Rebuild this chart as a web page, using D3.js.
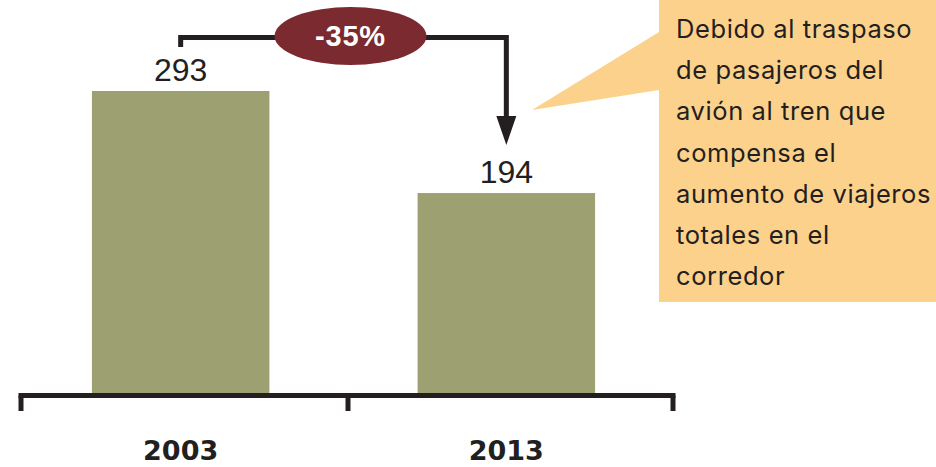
<!DOCTYPE html>
<html>
<head>
<meta charset="utf-8">
<script src="https://cdn.jsdelivr.net/npm/d3@7"></script>
<style>
  html, body { margin: 0; padding: 0; background: #ffffff; }
  svg { display: block; }
</style>
</head>
<body>
<svg id="chart" width="936" height="467"></svg>
<script>
// ---- data ----
const years = ["2003", "2013"];
const passengers = [293, 194];
const changeLabel = "-35%";
const noteLines = [
  "Debido al traspaso",
  "de pasajeros del",
  "avión al tren que",
  "compensa el",
  "aumento de viajeros",
  "totales en el",
  "corredor"
];

// ---- drawing ----
const W = 936, H = 467;
const svg = d3.select("#chart");

const barColor = "#9da172";
const ink = "#231f20";
const maroon = "#7b2a2f";
const noteColor = "#fcd18b";

const x = d3.scaleBand().domain(years).range([18, 669]).paddingInner(0.455).paddingOuter(0.227);
const y = d3.scaleLinear().domain([0, 293]).range([393, 91]);

// annotation box (drawn first, behind)
const boxX = 659, boxY = 0, boxB = 302;
const tip = [532, 110];
svg.append("path")
  .attr("d", `M${boxX},${boxY} H${W} V${boxB} H${boxX} V90 L${tip[0]},${tip[1]} L${boxX},32 Z`)
  .attr("fill", noteColor);

svg.append("g")
  .selectAll("text")
  .data(noteLines)
  .join("text")
  .attr("x", 676)
  .attr("y", (d, i) => 38 + i * 41.2)
  .attr("font-family", "Inter, 'Open Sans', sans-serif")
  .attr("font-size", 25.5)
  .attr("letter-spacing", 0.6)
  .attr("fill", ink)
  .text(d => d);

// bars
svg.append("g")
  .selectAll("rect")
  .data(passengers)
  .join("rect")
  .attr("x", (d, i) => x(years[i]))
  .attr("y", d => y(d))
  .attr("width", x.bandwidth())
  .attr("height", d => y(0) - y(d))
  .attr("fill", barColor);

// value labels
svg.append("g")
  .selectAll("text")
  .data(passengers)
  .join("text")
  .attr("x", (d, i) => x(years[i]) + x.bandwidth() / 2)
  .attr("y", d => y(d) - 10)
  .attr("text-anchor", "middle")
  .attr("font-family", "'Liberation Sans', Arial, sans-serif")
  .attr("font-size", 32)
  .attr("fill", ink)
  .text(d => d);

// axis: baseline with bracket ticks at band boundaries
const x0 = x.range()[0] + 3, x1 = x.range()[1] + 4;
const tickXs = [x0, (x0 + x1) / 2 + 1, x1];
const axisG = svg.append("g").attr("stroke", ink).attr("fill", "none");
axisG.append("line")
  .attr("x1", x0 - 2.5).attr("x2", x1 + 2.5)
  .attr("y1", y(0) + 2.5).attr("y2", y(0) + 2.5)
  .attr("stroke-width", 5);
axisG.selectAll("line.tick")
  .data(tickXs)
  .join("line")
  .attr("class", "tick")
  .attr("x1", d => d).attr("x2", d => d)
  .attr("y1", y(0) + 2.5).attr("y2", y(0) + 18)
  .attr("stroke-width", 5);

// category labels
svg.append("g")
  .selectAll("text")
  .data(years)
  .join("text")
  .attr("x", d => x(d) + x.bandwidth() / 2)
  .attr("y", 460)
  .attr("text-anchor", "middle")
  .attr("font-family", "'DejaVu Sans', sans-serif")
  .attr("font-weight", "bold")
  .attr("font-size", 27)
  .attr("fill", ink)
  .text(d => d);

// change bracket with arrow
const cxA = x(years[0]) + x.bandwidth() / 2;
const cxB = x(years[1]) + x.bandwidth() / 2;
const lineY = 37.5;
const arrowTip = y(passengers[1]) - 48;
svg.append("path")
  .attr("d", `M${cxA},${y(passengers[0]) - 44} V${lineY} H${cxB} V${arrowTip - 22}`)
  .attr("fill", "none")
  .attr("stroke", ink)
  .attr("stroke-width", 5)
  .attr("stroke-linejoin", "miter");
svg.append("path")
  .attr("d", `M${cxB - 10},${arrowTip - 29} L${cxB + 10},${arrowTip - 29} L${cxB},${arrowTip} Z`)
  .attr("fill", ink);

const midX = (cxA + cxB) / 2 + 7;
svg.append("ellipse")
  .attr("cx", midX).attr("cy", 36)
  .attr("rx", 76).attr("ry", 29)
  .attr("fill", maroon);
svg.append("text")
  .attr("x", midX)
  .attr("y", 46)
  .attr("text-anchor", "middle")
  .attr("font-family", "'Liberation Sans', Arial, sans-serif")
  .attr("font-weight", "bold")
  .attr("font-size", 29)
  .attr("letter-spacing", 0.8)
  .attr("fill", "#ffffff")
  .text(changeLabel);
</script>
</body>
</html>
